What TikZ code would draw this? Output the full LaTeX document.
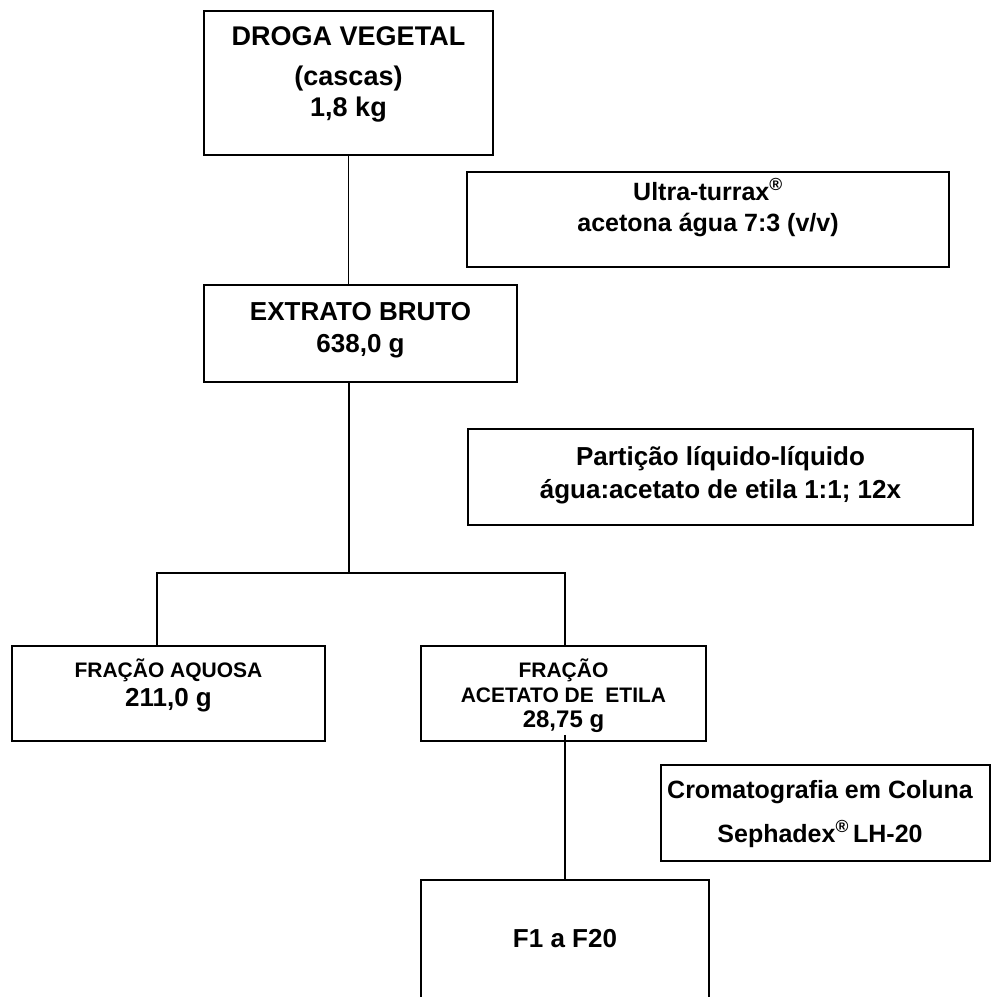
\documentclass[tikz,border=0pt]{standalone}
\usepackage{fontspec}
\setmainfont{Liberation Sans}
\usetikzlibrary{positioning}

\begin{document}
\begin{tikzpicture}[
      x=1pt, y=-1pt,
      box/.style = {draw, line width=1.8pt, inner sep=0pt, fill=white},
      txt/.style = {anchor=base, inner sep=0pt,
                    font=\bfseries\fontsize{26}{30}\selectfont},
      big txt/.style = {txt, font=\bfseries\fontsize{27}{30}\selectfont},
      mid txt/.style = {txt, font=\bfseries\fontsize{25}{28}\selectfont},
      num txt/.style = {txt, font=\bfseries\fontsize{24}{28}\selectfont},
      small txt/.style = {txt, font=\bfseries\fontsize{21}{24}\selectfont},
      link/.style = {line width=1.8pt},
    ]
    \useasboundingbox (0,0) rectangle (992,997);
    \clip (0,0) rectangle (992,997);

    %% Main boxes of the scheme
    \node [box, minimum width=289pt, minimum height=144pt] (droga) at (348.5,83) {};
    \node [box, minimum width=313pt, minimum height=97pt] (extrato) at (360.5,333.5) {};
    \node [box, minimum width=313pt, minimum height=95pt] (aquosa) at (168.5,693.5) {};
    \node [box, minimum width=285pt, minimum height=95pt] (acetato) at (563.5,693.5) {};
    \node [box, minimum width=288pt, minimum height=130pt] (fracoes) at (565,945) {};

    %% Boxes with the procedures
    \node [box, minimum width=482pt, minimum height=95pt] (turrax) at (708,219.5) {};
    \node [box, minimum width=505pt, minimum height=96pt] (particao) at (720.5,477) {};
    \node [box, minimum width=329pt, minimum height=96pt] (coluna) at (825.5,813) {};

    %% Texts, line by line
    \node [big txt] (droga a) at (348.5,45) {DROGA VEGETAL};
    \node [big txt] (droga b) at (348.5,85) {(cascas)};
    \node [big txt] (droga c) at (348.5,116) {1,8 kg};

    \node [mid txt] (turrax a) at (708,200) {Ultra-turrax\textsuperscript{®}};
    \node [mid txt] (turrax b) at (708,231) {acetona água 7:3 (v/v)};

    \node [txt] (extrato a) at (360.5,320) {EXTRATO BRUTO};
    \node [txt] (extrato b) at (360.5,352) {638,0 g};

    \node [txt] (particao a) at (720.5,465) {Partição líquido-líquido};
    \node [txt] (particao b) at (720.5,498) {água:acetato de etila 1:1; 12x};

    \node [small txt] (aquosa a) at (168.5,677) {FRAÇÃO AQUOSA};
    \node [txt] (aquosa b) at (168.5,706) {211,0 g};

    \node [small txt] (acetato a) at (563.5,677) {FRAÇÃO};
    \node [small txt] (acetato b) at (563.5,702) {ACETATO DE~~ETILA};
    \node [num txt] (acetato c) at (563.5,727) {28,75 g};

    \node [mid txt] (coluna a) at (820,798) {Cromatografia em Coluna};
    \node [mid txt] (coluna b) at (820,842) {Sephadex\textsuperscript{®}\,LH-20};

    \node [txt] (fracoes a) at (565,947) {F1 a F20};

    %% Connectors
    \coordinate (split) at (349,573);
    \coordinate (split left) at (157,573);
    \coordinate (split right) at (565,573);
    \draw [link] (droga.south) -- (droga.south |- extrato.north);
    \draw [link] (split |- extrato.south) -- (split);
    \draw [link] (aquosa.north -| split left) -- (split left)
      -- (split right) -- (split right |- acetato.north);
    \draw [link] ([yshift=7pt] fracoes.north |- acetato.south) -- (fracoes.north);
  \end{tikzpicture}
\end{document}
